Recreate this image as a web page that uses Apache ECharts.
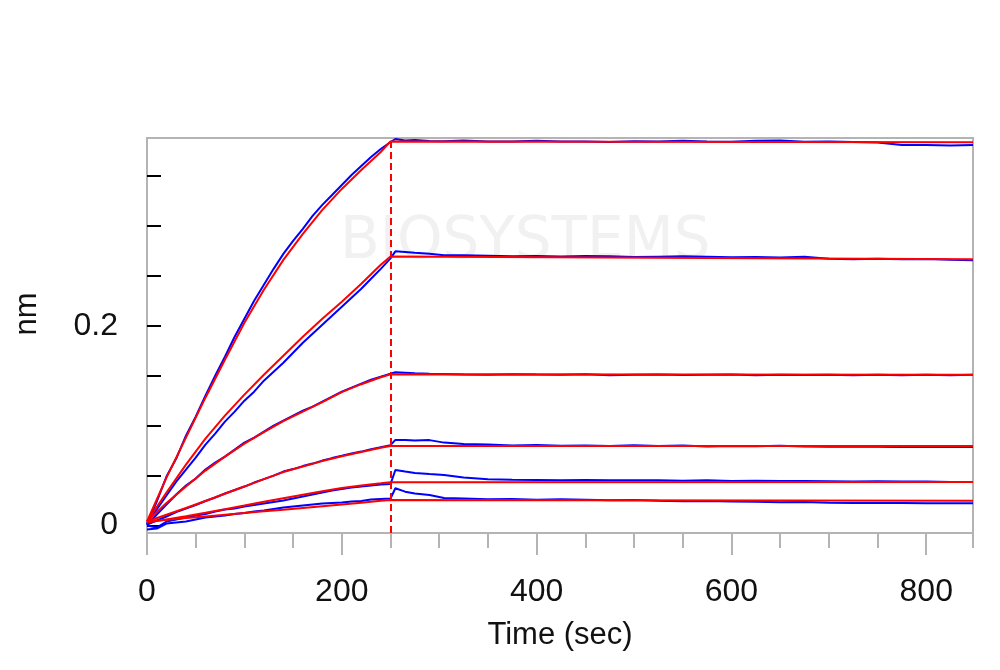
<!DOCTYPE html>
<html>
<head>
<meta charset="utf-8">
<script src="https://cdn.jsdelivr.net/npm/echarts@6/dist/echarts.min.js"></script>
<style>html,body{margin:0;padding:0;background:#fff;}#chart{width:1000px;height:670px;}</style>
</head>
<body>
<div id="chart"></div>
<script>
// ---- data ----
const stepTime = 250;           // association -> dissociation switch (sec)
const xLabelValues = [0, 200, 400, 600, 800];
const xMinorTicks = [0, 50, 100, 150, 200, 250, 300, 350, 400, 450, 500, 550, 600, 650, 700, 750, 800, 848];
const yLabelValues = [0, 0.2];
const yTickValues = [0, 0.05, 0.1, 0.15, 0.2, 0.25, 0.3, 0.35];

// measured (blue) sample times
const tA = [0,10,20,30,40,50,60,70,80,90,100,110,120,130,140,150,160,170,180,190,200,210,220,230,240,250];
const tD = [255,265,275,290,305,325,350,375,400,425,450,475,500,525,550,575,600,625,650,675,700,725,750,775,800,825,848];

const blue1A = [0.001,0.024,0.049,0.067,0.090,0.109,0.130,0.150,0.169,0.189,0.207,0.225,0.241,0.257,0.272,0.285,0.297,0.310,0.321,0.331,0.341,0.351,0.360,0.369,0.377,0.384];
const blue1D = [0.387,0.3855,0.386,0.385,0.3848,0.3855,0.3846,0.3845,0.3852,0.3846,0.3845,0.384,0.3848,0.3844,0.3852,0.3846,0.3843,0.3852,0.3855,0.3842,0.3845,0.384,0.3835,0.381,0.381,0.3805,0.381];
const blue2A = [0.002,0.016,0.030,0.044,0.056,0.068,0.081,0.092,0.104,0.114,0.125,0.134,0.145,0.154,0.163,0.173,0.183,0.192,0.201,0.210,0.219,0.228,0.237,0.247,0.257,0.2675];
const blue2D = [0.2745,0.2738,0.273,0.272,0.2705,0.2705,0.270,0.2695,0.2698,0.2693,0.2698,0.2695,0.2688,0.2692,0.2695,0.269,0.2685,0.2688,0.2683,0.269,0.2672,0.2665,0.2672,0.2665,0.2668,0.266,0.2655];
const blue3A = [0.000,0.011,0.021,0.031,0.040,0.047,0.056,0.063,0.069,0.076,0.083,0.088,0.094,0.100,0.105,0.110,0.115,0.119,0.124,0.129,0.134,0.138,0.142,0.146,0.149,0.152];
const blue3D = [0.1535,0.153,0.1525,0.152,0.1518,0.1512,0.151,0.1515,0.1512,0.151,0.1515,0.1505,0.151,0.1512,0.1508,0.151,0.1512,0.1505,0.151,0.1508,0.151,0.1505,0.151,0.1505,0.151,0.1505,0.151];
const blue4A = [0.001,0.005,0.009,0.0135,0.017,0.0205,0.0245,0.028,0.032,0.0355,0.039,0.043,0.0465,0.050,0.054,0.0565,0.0595,0.062,0.065,0.0675,0.0698,0.0722,0.074,0.0765,0.0785,0.0805];
const blue4D = [0.0857,0.0855,0.0852,0.0855,0.083,0.0815,0.081,0.0802,0.0805,0.0798,0.080,0.0797,0.0803,0.0795,0.080,0.0792,0.0796,0.0793,0.0798,0.0792,0.0788,0.079,0.0788,0.0786,0.0787,0.0786,0.0786];
const blue5A = [0.000,-0.002,0.004,0.006,0.008,0.010,0.0115,0.014,0.016,0.017,0.019,0.0205,0.022,0.0235,0.025,0.027,0.029,0.031,0.033,0.035,0.0365,0.038,0.039,0.040,0.041,0.0415];
const blue5D = [0.0556,0.054,0.0525,0.0515,0.0506,0.048,0.0462,0.0458,0.0456,0.0454,0.0455,0.0452,0.0454,0.0452,0.0448,0.0452,0.0445,0.0448,0.0446,0.0445,0.0444,0.044,0.0442,0.044,0.0441,0.0436,0.0436];
const blue6A = [-0.004,-0.003,0.002,0.003,0.004,0.006,0.008,0.009,0.010,0.0115,0.0125,0.014,0.015,0.0165,0.018,0.019,0.020,0.021,0.022,0.0225,0.023,0.024,0.0245,0.026,0.0265,0.027];
const blue6D = [0.0373,0.0339,0.032,0.0306,0.0275,0.027,0.0262,0.0265,0.0258,0.0262,0.0257,0.0252,0.0255,0.0248,0.0243,0.0245,0.024,0.0238,0.0232,0.0235,0.0228,0.0225,0.0226,0.0225,0.0224,0.0222,0.0224];

// fitted (red) curves
const tFitA = [0,20,40,60,80,100,120,140,160,180,200,220,240,250];
const tFitD = [250, 848];
const fit1A = [0.004,0.048,0.088,0.128,0.166,0.203,0.236,0.266,0.292,0.316,0.337,0.356,0.374,0.3846];
const fit1D = [0.3846,0.3838];
const fit2A = [0.004,0.033,0.061,0.087,0.110,0.131,0.151,0.170,0.189,0.207,0.224,0.242,0.261,0.2693];
const fit2D = [0.2693,0.2667];
const fit3A = [0.004,0.0225,0.039,0.055,0.069,0.082,0.0935,0.1045,0.114,0.1235,0.1335,0.1415,0.1485,0.1515];
const fit3D = [0.1515,0.151];
const fit4A = [0.004,0.0108,0.0175,0.0245,0.0318,0.039,0.0465,0.0535,0.059,0.0645,0.0694,0.0737,0.0778,0.0797];
const fit4D = [0.0797,0.0797];
const fit5A = [0.003,0.006,0.0093,0.0127,0.0163,0.020,0.0238,0.0274,0.0309,0.0343,0.0376,0.0401,0.0422,0.0433];
const fit5D = [0.0433,0.0436];
const fit6A = [0.004,0.0057,0.0074,0.0091,0.0108,0.0125,0.0142,0.0159,0.0176,0.0193,0.021,0.0227,0.0247,0.0256];
const fit6D = [0.0256,0.0249];

// ---- build ----
function pairs(ts, vs) { return ts.map((t, i) => [t, vs[i]]); }
const blues = [[blue1A,blue1D],[blue2A,blue2D],[blue3A,blue3D],[blue4A,blue4D],[blue5A,blue5D],[blue6A,blue6D]];
const fits = [[fit1A,fit1D],[fit2A,fit2D],[fit3A,fit3D],[fit4A,fit4D],[fit5A,fit5D],[fit6A,fit6D]];

const series = [];
blues.forEach(([a, d]) => {
  series.push({
    type: 'line', xAxisIndex: 0, yAxisIndex: 0, showSymbol: false, silent: true,
    lineStyle: { color: '#0000ff', width: 2 },
    data: pairs(tA, a).concat(pairs(tD, d)), z: 2
  });
});
fits.forEach(([a, d], k) => {
  const s = {
    type: 'line', xAxisIndex: 0, yAxisIndex: 0, showSymbol: false, silent: true,
    lineStyle: { color: '#ff0000', width: 2 },
    data: pairs(tFitA, a).concat(pairs(tFitD, d).slice(1)), z: 3
  };
  if (k === 0) {
    s.markLine = {
      silent: true, symbol: 'none', label: { show: false },
      lineStyle: { color: '#ff0000', type: [7, 4], width: 2 },
      data: [{ xAxis: stepTime }]
    };
  }
  series.push(s);
});

const FONT = '"Liberation Sans", Arial, sans-serif';
const gray = '#b4b4b4';

const chart = echarts.init(document.getElementById('chart'), null, { renderer: 'canvas' });
chart.setOption({
  animation: false,
  backgroundColor: '#ffffff',
  grid: { left: 147, right: 27, top: 138, bottom: 137, show: true, borderColor: gray, borderWidth: 2, backgroundColor: 'transparent' },
  xAxis: [{
    type: 'value', min: 0, max: 848,
    name: 'Time (sec)', nameLocation: 'middle', nameGap: 87,
    nameTextStyle: { fontFamily: FONT, fontSize: 31, color: '#111' },
    axisLine: { show: true, onZero: false, lineStyle: { color: gray, width: 2 } },
    axisTick: { show: true, customValues: xMinorTicks, length: 15, lineStyle: { color: gray, width: 2 } },
    axisLabel: { customValues: xLabelValues, margin: 43, fontFamily: FONT, fontSize: 32, color: '#111' },
    splitLine: { show: false }
  }, {
    type: 'value', min: 0, max: 848, position: 'bottom',
    axisLine: { show: false, onZero: false },
    axisTick: { show: true, customValues: xLabelValues, length: 22, lineStyle: { color: gray, width: 2 } },
    axisLabel: { show: false },
    splitLine: { show: false }
  }],
  yAxis: {
    type: 'value', min: -0.0075, max: 0.388,
    axisLine: { show: true, onZero: false, lineStyle: { color: gray, width: 2 } },
    axisTick: { show: true, inside: true, customValues: yTickValues, length: 14, lineStyle: { color: '#000', width: 2 } },
    axisLabel: { customValues: yLabelValues, margin: 29, fontFamily: FONT, fontSize: 32, color: '#111',
      formatter: v => (Math.abs(v) < 1e-9 ? '0' : String(Math.round(v * 10) / 10)) },
    splitLine: { show: false }
  },
  graphic: [
    { type: 'text', left: 340, top: 214, z: 0, silent: true,
      style: { text: 'BIOSYSTEMS', font: '58px "DejaVu Sans", sans-serif', fill: '#f1f1f1' } },
    { type: 'text', x: 27, y: 314, rotation: Math.PI / 2, z: 10, silent: true,
      style: { text: 'nm', font: '31px "Liberation Sans", Arial, sans-serif', fill: '#111', align: 'center', verticalAlign: 'middle' } }
  ],
  series: series
});
</script>
</body>
</html>
